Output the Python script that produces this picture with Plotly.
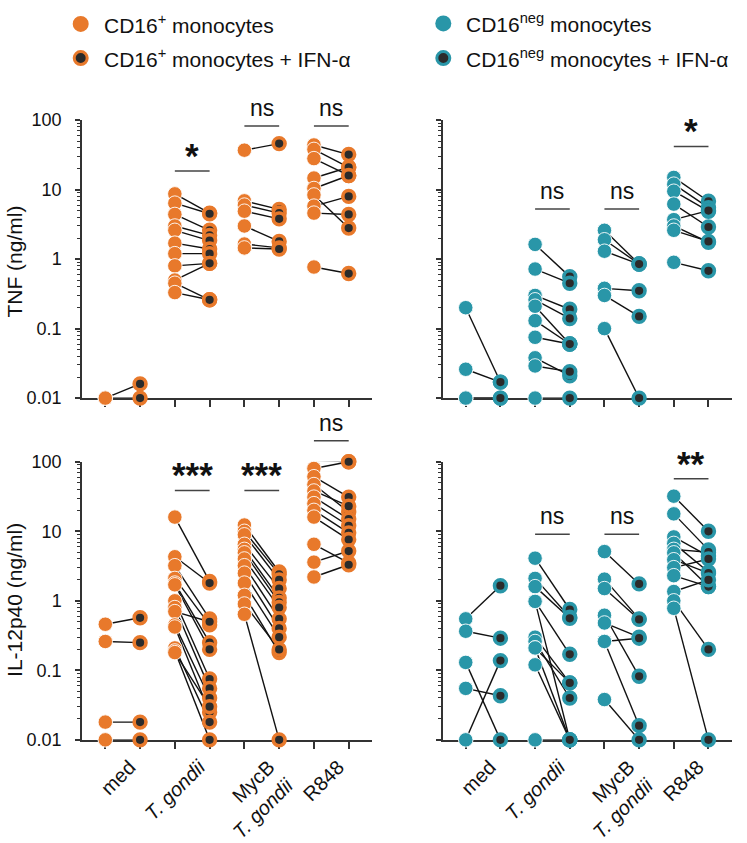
import plotly.graph_objects as go

# ------------------------------------------------------------------ data
stimuli = ["med", "<i>T. gondii</i>", "MycB<br><i>T. gondii</i>", "R848"]
y_tickvals = [0.01, 0.1, 1, 10, 100]
y_ticktext = ["0.01", "0.1", "1", "10", "100"]

# TNF (ng/ml), CD16+ monocytes: control -> + IFN-alpha (paired donors)
tnf_pos_med_ctrl = [0.01, 0.01]
tnf_pos_med_ifn = [0.016, 0.01]
tnf_pos_tg_ctrl = [8.7, 6.4, 4.4, 3.0, 2.6, 1.7, 1.2, 0.8, 0.5, 0.45, 0.33]
tnf_pos_tg_ifn = [4.6, 4.5, 2.6, 2.2, 1.85, 1.4, 1.2, 0.87, 0.87, 0.26, 0.26]
tnf_pos_myc_ctrl = [37, 6.9, 6.0, 4.9, 3.0, 1.65, 1.45]
tnf_pos_myc_ifn = [46, 5.2, 4.6, 3.8, 1.8, 1.45, 1.4]
tnf_pos_r848_ctrl = [44, 38, 28, 14.7, 10.4, 8.4, 5.8, 4.6, 0.77]
tnf_pos_r848_ifn = [32, 21, 16, 21, 16, 2.8, 8.0, 4.4, 0.62]

# TNF (ng/ml), CD16neg monocytes
tnf_neg_med_ctrl = [0.2, 0.026, 0.01, 0.01]
tnf_neg_med_ifn = [0.017, 0.017, 0.01, 0.01]
tnf_neg_tg_ctrl = [1.63, 0.72, 0.30, 0.26, 0.21, 0.13, 0.075, 0.038, 0.029, 0.01]
tnf_neg_tg_ifn = [0.56, 0.45, 0.19, 0.14, 0.06, 0.06, 0.06, 0.021, 0.024, 0.01]
tnf_neg_myc_ctrl = [2.6, 1.9, 1.3, 0.38, 0.30, 0.10]
tnf_neg_myc_ifn = [0.85, 0.85, 0.85, 0.35, 0.15, 0.01]
tnf_neg_r848_ctrl = [15, 12, 9.5, 6.2, 3.7, 3.0, 2.6, 0.9]
tnf_neg_r848_ifn = [6.8, 5.5, 4.9, 2.9, 5.0, 1.75, 1.8, 0.68]

# IL-12p40 (ng/ml), CD16+ monocytes
il12_pos_med_ctrl = [0.46, 0.26, 0.018, 0.01]
il12_pos_med_ifn = [0.57, 0.25, 0.018, 0.01]
il12_pos_tg_ctrl = [16, 4.3, 3.2, 2.1, 1.8, 1.7, 1.0, 0.8, 0.7, 0.45, 0.42, 0.21, 0.19, 0.18]
il12_pos_tg_ifn = [1.9, 1.8, 0.55, 0.45, 0.25, 0.2, 0.075, 0.055, 0.5, 0.04, 0.025, 0.018, 0.01, 0.03]
il12_pos_myc_ctrl = [12.3, 10, 8.9, 6.5, 5.5, 4.9, 4.0, 3.2, 2.5, 1.8, 1.2, 0.9, 0.64]
il12_pos_myc_ifn = [2.6, 2.4, 2.0, 1.5, 1.1, 0.95, 0.8, 0.55, 0.4, 0.3, 0.18, 0.2, 0.01]
il12_pos_r848_ctrl = [105, 80, 61, 47, 38, 31, 25, 20, 16, 6.5, 3.6, 2.2]
il12_pos_r848_ifn = [100, 100, 31, 19, 23, 15, 12, 9.5, 7.6, 3.5, 5.2, 3.3]

# IL-12p40 (ng/ml), CD16neg monocytes
il12_neg_med_ctrl = [0.55, 0.365, 0.13, 0.055, 0.01]
il12_neg_med_ifn = [1.65, 0.29, 0.01, 0.043, 0.138]
il12_neg_tg_ctrl = [4.1, 2.1, 1.6, 0.98, 0.98, 0.30, 0.26, 0.21, 0.21, 0.12, 0.01]
il12_neg_tg_ifn = [0.75, 0.58, 0.56, 0.17, 0.01, 0.066, 0.04, 0.01, 0.066, 0.01, 0.01]
il12_neg_myc_ctrl = [5.1, 2.05, 1.5, 0.62, 0.48, 0.26, 0.26, 0.038]
il12_neg_myc_ifn = [1.75, 0.55, 0.54, 0.082, 0.3, 0.29, 0.016, 0.01]
il12_neg_r848_ctrl = [32, 17.8, 8.3, 6.7, 5.5, 4.9, 3.9, 3.0, 2.3, 1.36, 1.0, 0.78]
il12_neg_r848_ifn = [10, 5.4, 4.4, 2.6, 5.0, 1.6, 2.5, 4.0, 1.6, 2.0, 0.2, 0.01]

sig_tnf_pos = ["", "*", "ns", "ns"]
sig_tnf_neg = ["", "ns", "ns", "*"]
sig_il12_pos = ["", "***", "***", "ns"]
sig_il12_neg = ["", "ns", "ns", "**"]

legend_labels = [
    "CD16<sup>+</sup> monocytes",
    "CD16<sup>+</sup> monocytes + IFN-α",
    "CD16<sup>neg</sup> monocytes",
    "CD16<sup>neg</sup> monocytes + IFN-α",
]

# ------------------------------------------------------------------ style
W, H = 747, 843
ORANGE = "#E8792B"
TEAL = "#2996A8"
DARK = "#2B2B2B"
AX = "#333333"
FONT = "Liberation Sans, Arial, Helvetica, sans-serif"


def px_x(p):
    return p / W


def px_y(p):
    return 1 - p / H


panels = [
    dict(ax="", color=ORANGE, sig=sig_tnf_pos,
         xd=[82, 372], yd=[113, 398],
         bar_py=[None, 165, 119, 119],
         data=[(tnf_pos_med_ctrl, tnf_pos_med_ifn), (tnf_pos_tg_ctrl, tnf_pos_tg_ifn),
               (tnf_pos_myc_ctrl, tnf_pos_myc_ifn), (tnf_pos_r848_ctrl, tnf_pos_r848_ifn)],
         labels_y=True, labels_x=False),
    dict(ax="2", color=TEAL, sig=sig_tnf_neg,
         xd=[442.5, 731.7], yd=[113, 398],
         bar_py=[None, 204, 204, 140],
         data=[(tnf_neg_med_ctrl, tnf_neg_med_ifn), (tnf_neg_tg_ctrl, tnf_neg_tg_ifn),
               (tnf_neg_myc_ctrl, tnf_neg_myc_ifn), (tnf_neg_r848_ctrl, tnf_neg_r848_ifn)],
         labels_y=False, labels_x=False),
    dict(ax="3", color=ORANGE, sig=sig_il12_pos,
         xd=[82, 372], yd=[463.3, 748.5],
         bar_py=[None, 492.7, 492.7, 441.7],
         data=[(il12_pos_med_ctrl, il12_pos_med_ifn), (il12_pos_tg_ctrl, il12_pos_tg_ifn),
               (il12_pos_myc_ctrl, il12_pos_myc_ifn), (il12_pos_r848_ctrl, il12_pos_r848_ifn)],
         labels_y=True, labels_x=True),
    dict(ax="4", color=TEAL, sig=sig_il12_neg,
         xd=[442.5, 731.7], yd=[463.3, 748.5],
         bar_py=[None, 537.7, 537.7, 480.7],
         data=[(il12_neg_med_ctrl, il12_neg_med_ifn), (il12_neg_tg_ctrl, il12_neg_tg_ifn),
               (il12_neg_myc_ctrl, il12_neg_myc_ifn), (il12_neg_r848_ctrl, il12_neg_r848_ifn)],
         labels_y=False, labels_x=True),
]

fig = go.Figure()
shapes = []
annotations = []
minor_y = [k * 10 ** e for e in range(-2, 2) for k in range(2, 10)]

for pn in panels:
    xa, ya = "x" + pn["ax"], "y" + pn["ax"]
    lx, ly, cx, cy, ix, iy = [], [], [], [], [], []
    for i, (ctrl, ifn) in enumerate(pn["data"]):
        xc, xi = 2 * i + 1, 2 * i + 2
        for a, b in zip(ctrl, ifn):
            lx += [xc, xi, None]
            ly += [a, b, None]
        cx += [xc] * len(ctrl)
        cy += list(ctrl)
        ix += [xi] * len(ifn)
        iy += list(ifn)
    fig.add_trace(go.Scatter(x=lx, y=ly, mode="lines", xaxis=xa, yaxis=ya,
                             line=dict(color="#111111", width=1.4),
                             showlegend=False, hoverinfo="skip", cliponaxis=False))
    fig.add_trace(go.Scatter(x=cx, y=cy, mode="markers", xaxis=xa, yaxis=ya,
                             marker=dict(size=14.5, color=pn["color"],
                                         line=dict(color="white", width=0.9)),
                             showlegend=False, cliponaxis=False))
    fig.add_trace(go.Scatter(x=ix, y=iy, mode="markers", xaxis=xa, yaxis=ya,
                             marker=dict(size=11.8, color=DARK,
                                         line=dict(color=pn["color"], width=3.6)),
                             showlegend=False, cliponaxis=False))

    xkey = "xaxis" + pn["ax"]
    ykey = "yaxis" + pn["ax"]
    fig.layout[xkey] = dict(
        domain=[px_x(pn["xd"][0]), px_x(pn["xd"][1])],
        anchor=ya, range=[0.33, 8.67], showgrid=False, zeroline=False,
        showline=True, linecolor=AX, linewidth=1.5, layer="below traces",
        tickmode="array", tickvals=[1.5, 3.5, 5.5, 7.5], ticktext=stimuli,
        ticks="", showticklabels=pn["labels_x"], tickangle=-45,
        ticklabelstandoff=6, ticklabelshift=7,
        tickfont=dict(size=20, color="#111111", family=FONT),
        minor=dict(tickmode="array", tickvals=list(range(1, 9)), ticks="outside",
                   ticklen=7, tickwidth=1.5, tickcolor=AX),
        fixedrange=True,
    )
    fig.layout[ykey] = dict(
        domain=[px_y(pn["yd"][1]), px_y(pn["yd"][0])],
        anchor=xa, type="log", range=[-2, 2], showgrid=False, zeroline=False,
        showline=True, linecolor=AX, linewidth=1.5, layer="below traces",
        tickmode="array", tickvals=y_tickvals, ticktext=y_ticktext,
        ticks="outside", ticklen=5, tickwidth=1.5, tickcolor=AX,
        showticklabels=pn["labels_y"], ticklabelstandoff=10,
        tickfont=dict(size=18, color="#111111", family=FONT),
        minor=dict(tickmode="array", tickvals=minor_y, ticks="outside",
                   ticklen=3, tickwidth=1, tickcolor=AX),
        fixedrange=True,
    )

    for i, lab in enumerate(pn["sig"]):
        if not lab:
            continue
        by = pn["bar_py"][i]
        shapes.append(dict(type="line", xref=xa, yref="paper",
                           x0=2 * i + 1, x1=2 * i + 2, y0=px_y(by), y1=px_y(by),
                           line=dict(color="#444444", width=1.5)))
        if lab == "ns":
            annotations.append(dict(text="ns", xref=xa, yref="paper", x=2 * i + 1.5,
                                    y=px_y(by - 3), xanchor="center", yanchor="bottom",
                                    showarrow=False,
                                    font=dict(size=23, color="#111111", family=FONT)))
        else:
            annotations.append(dict(text="<b>" + lab + "</b>", xref=xa, yref="paper",
                                    x=2 * i + 1.5, y=px_y(by + 6), xanchor="center",
                                    yanchor="bottom", showarrow=False,
                                    font=dict(size=35, color="#111111", family=FONT)))

# axis titles
annotations.append(dict(text="TNF (ng/ml)", xref="paper", yref="paper",
                        x=px_x(15), y=px_y(258), textangle=-90, showarrow=False,
                        xanchor="center", yanchor="middle",
                        font=dict(size=21, color="#111111", family=FONT)))
annotations.append(dict(text="IL-12p40 (ng/ml)", xref="paper", yref="paper",
                        x=px_x(15), y=px_y(605), textangle=-90, showarrow=False,
                        xanchor="center", yanchor="middle",
                        font=dict(size=21, color="#111111", family=FONT)))

# legend (drawn manually)
leg_pos = [(80.7, 14.3, ORANGE, False), (80.7, 49.3, ORANGE, True),
           (443.3, 13.8, TEAL, False), (443.3, 49.3, TEAL, True)]
for (mx, my, col, ifn), lab in zip(leg_pos, legend_labels):
    if ifn:
        shapes.append(dict(type="circle", xref="paper", yref="paper",
                           xsizemode="pixel", ysizemode="pixel",
                           xanchor=px_x(mx), yanchor=px_y(my),
                           x0=-6.5, x1=6.5, y0=-6.5, y1=6.5,
                           fillcolor=DARK, line=dict(color=col, width=3)))
    else:
        shapes.append(dict(type="circle", xref="paper", yref="paper",
                           xsizemode="pixel", ysizemode="pixel",
                           xanchor=px_x(mx), yanchor=px_y(my),
                           x0=-8, x1=8, y0=-8, y1=8,
                           fillcolor=col, line=dict(width=0)))
    annotations.append(dict(text=lab, xref="paper", yref="paper",
                            x=px_x(mx + 21), y=px_y(my), xanchor="left",
                            yanchor="middle", showarrow=False,
                            font=dict(size=21, color="#111111", family=FONT)))

fig.update_layout(
    width=W, height=H,
    margin=dict(l=0, r=0, t=0, b=0),
    paper_bgcolor="white", plot_bgcolor="white",
    shapes=shapes, annotations=annotations,
    showlegend=False,
    font=dict(family=FONT, color="#111111"),
)

fig.write_html("out.html", config={"displayModeBar": False},
               post_script="document.body.style.margin='0';")
